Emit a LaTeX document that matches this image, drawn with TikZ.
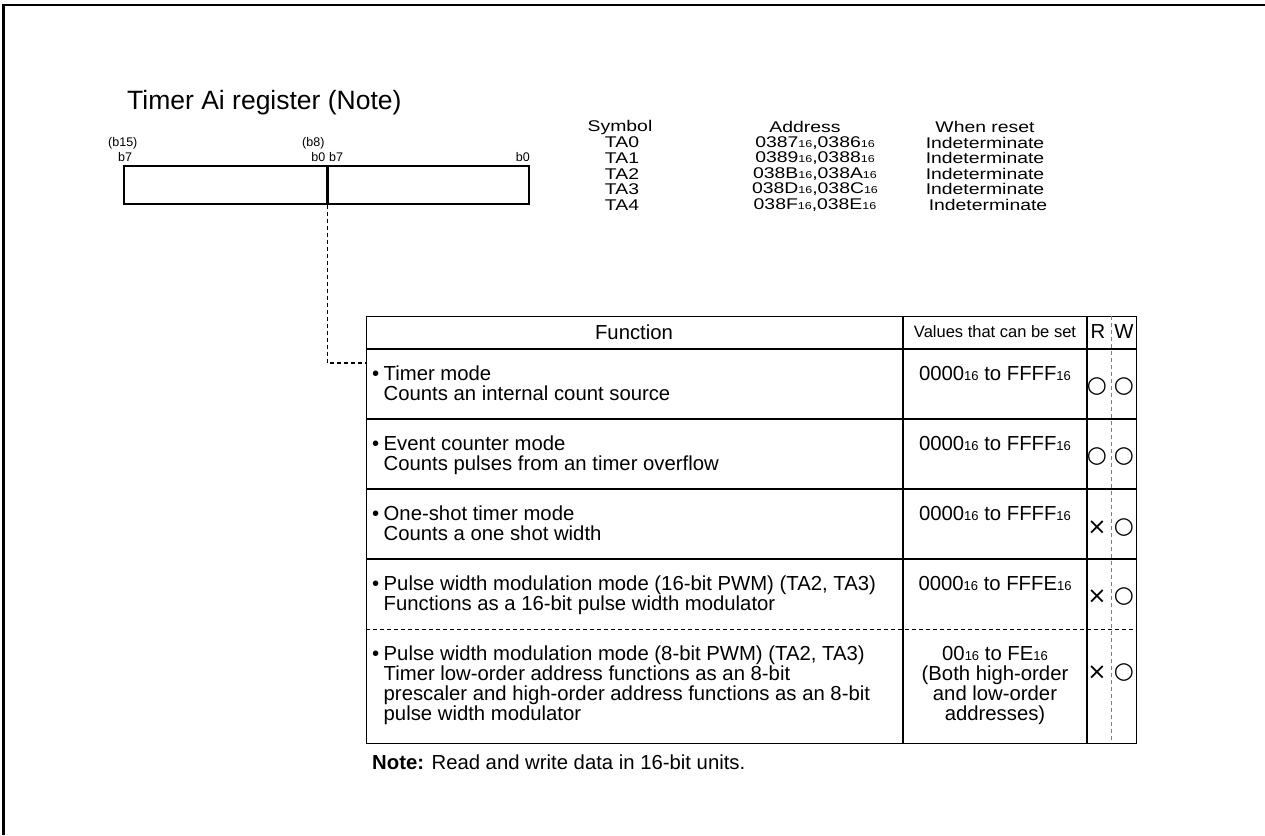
\documentclass[tikz,border=0pt]{standalone}
\usepackage{fontspec}
\setmainfont{Liberation Sans}
\newfontfamily\symfont{DejaVu Sans}
\newfontfamily\widefont[FakeStretch=1.25]{Liberation Sans}
\usetikzlibrary{positioning}

% hex value with small "16"
\newcommand{\hx}[1]{#1{\fontsize{13}{13}\selectfont 16}}
\newcommand{\hxs}[1]{#1{\fontsize{10}{10}\selectfont 16}}
\newcommand{\itm}{\makebox[11.5pt][l]{•}}
\newcommand{\cnt}{\hspace*{11.5pt}}

\tikzset{
  ttl/.style={font=\fontsize{26.5}{28}\selectfont, inner sep=0pt},
  bitlbl/.style={font=\fontsize{12.5}{13}\selectfont, inner sep=0pt},
  symtxt/.style={font=\widefont\fontsize{15.5}{16}\selectfont, inner sep=0pt},
  body/.style={font=\fontsize{20.3}{20}\selectfont, inner sep=0pt},
  regbox/.style={draw, line width=1.3pt, minimum height=38pt, inner sep=0pt},
  rowline/.style={line width=2pt},
  rwsep/.style={gray, dash pattern=on 4pt off 3pt, line width=1pt},
  conn/.style={line width=1.5pt, dash pattern=on 4pt off 3pt},
  rwmark/.style={font=\symfont\fontsize{23}{24}\selectfont, inner sep=0pt}
}

\begin{document}
\begin{tikzpicture}[x=1pt,y=-1pt]
  \useasboundingbox (0,0) rectangle (1265,835);
  % page frame
  \draw[line width=2.6pt] (3.5,835) -- (3.5,5) -- (1265,5);

  % register
  \node[ttl, anchor=base west] (title) at (127,109) {Timer Ai register (Note)};
  \node[regbox, minimum width=203pt] (reghi) at (225.5,185) {};
  \node[regbox, minimum width=202pt] (reglo) at (428,185) {};
  \draw[line width=2pt] (reghi.north east) -- (reghi.south east);
  \node[bitlbl, anchor=base west] (b15) at (108,146) {(b15)};
  \node[bitlbl, anchor=base west] (hib7) at (118,161) {b7};
  \node[bitlbl, anchor=base west] (b8) at (302,146) {(b8)};
  \node[bitlbl, anchor=base east] (hib0) at (325.5,161) {b0};
  \node[bitlbl, anchor=base west] (lob7) at (329,161) {b7};
  \node[bitlbl, anchor=base east] (lob0) at (530,161) {b0};

  % symbol / address table
  \node[symtxt] (symh) at (620,127) {Symbol};
  \node[symtxt] (adrh) at (805,127) {Address};
  \node[symtxt] (rsth) at (985,127) {When reset};
  \foreach \s/\a/\b/\dx [count=\i] in {TA0/0387/0386/0,TA1/0389/0388/0,TA2/038B/038A/0,TA3/038D/038C/0,TA4/038F/038E/3}{
    \node[symtxt] (sym\i) at (622,127+15.6*\i) {\s};
    \node[symtxt] (adr\i) at (815,127+15.6*\i) {\hxs{\a},\hxs{\b}};
    \node[symtxt] (rst\i) at (985+\dx,127+15.6*\i) {Indeterminate};
  }

  % function table
  \node[draw, line width=1.3pt, minimum width=770pt, minimum height=427pt,
        inner sep=0pt, anchor=north west] (tbl) at (366,316) {};
  \draw[line width=2.6pt] (366,349) -- (1136,349);
  \foreach \y in {419,489,559}
    \draw[rowline] (366,\y) -- (1136,\y);
  \draw[line width=1pt, dash pattern=on 4pt off 3pt] (366,629) -- (1136,629);
  \draw[rowline] (903,316) -- (903,743);
  \draw[rowline] (1087,316) -- (1087,743);
  \draw[rwsep] (1111,316) -- (1111,743);

  \node[body] (fnh) at (634,332) {Function};
  \node[body, font=\fontsize{16.5}{17}\selectfont] (valh) at (995,332) {Values that can be set};
  \node[body] (rh) at (1098,332) {R};
  \node[body] (wh) at (1124,332) {W};

  \foreach \t/\ft/\vt/\r/\w/\m [count=\i] in {
    349/{\itm Timer mode\\\cnt Counts an internal count source}/{\hx{0000} to \hx{FFFF}}/○/○/387,
    419/{\itm Event counter mode\\\cnt Counts pulses from an timer overflow}/{\hx{0000} to \hx{FFFF}}/○/○/457,
    489/{\itm One-shot timer mode\\\cnt Counts a one shot width}/{\hx{0000} to \hx{FFFF}}/×/○/528,
    559/{\itm Pulse width modulation mode (16-bit PWM) (TA2, TA3)\\\cnt Functions as a 16-bit pulse width modulator}/{\hx{0000} to \hx{FFFE}}/×/○/597,
    629/{\itm Pulse width modulation mode (8-bit PWM) (TA2, TA3)\\\cnt Timer low-order address functions as an 8-bit\\\cnt prescaler and high-order address functions as an 8-bit\\\cnt pulse width modulator}/{\hx{00} to \hx{FE}\\(Both high-order\\and low-order\\addresses)}/×/○/673}{
    \node[body, align=left, anchor=north west] (fn\i) at (372,\t+17) {\ft};
    \node[body, align=center, anchor=north] (val\i) at (995,\t+17) {\vt};
    \node[rwmark] (rd\i) at (1097,\m) {\r};
    \node[rwmark] (wr\i) at (1124,\m) {\w};
  }

  \node[body, anchor=base west] (note) at (372,769) {\textbf{Note:} Read and write data in 16-bit units.};

  % link from register to table
  \draw[conn] (reghi.south east) |- ([yshift=-47pt]tbl.north west);
\end{tikzpicture}
\end{document}
